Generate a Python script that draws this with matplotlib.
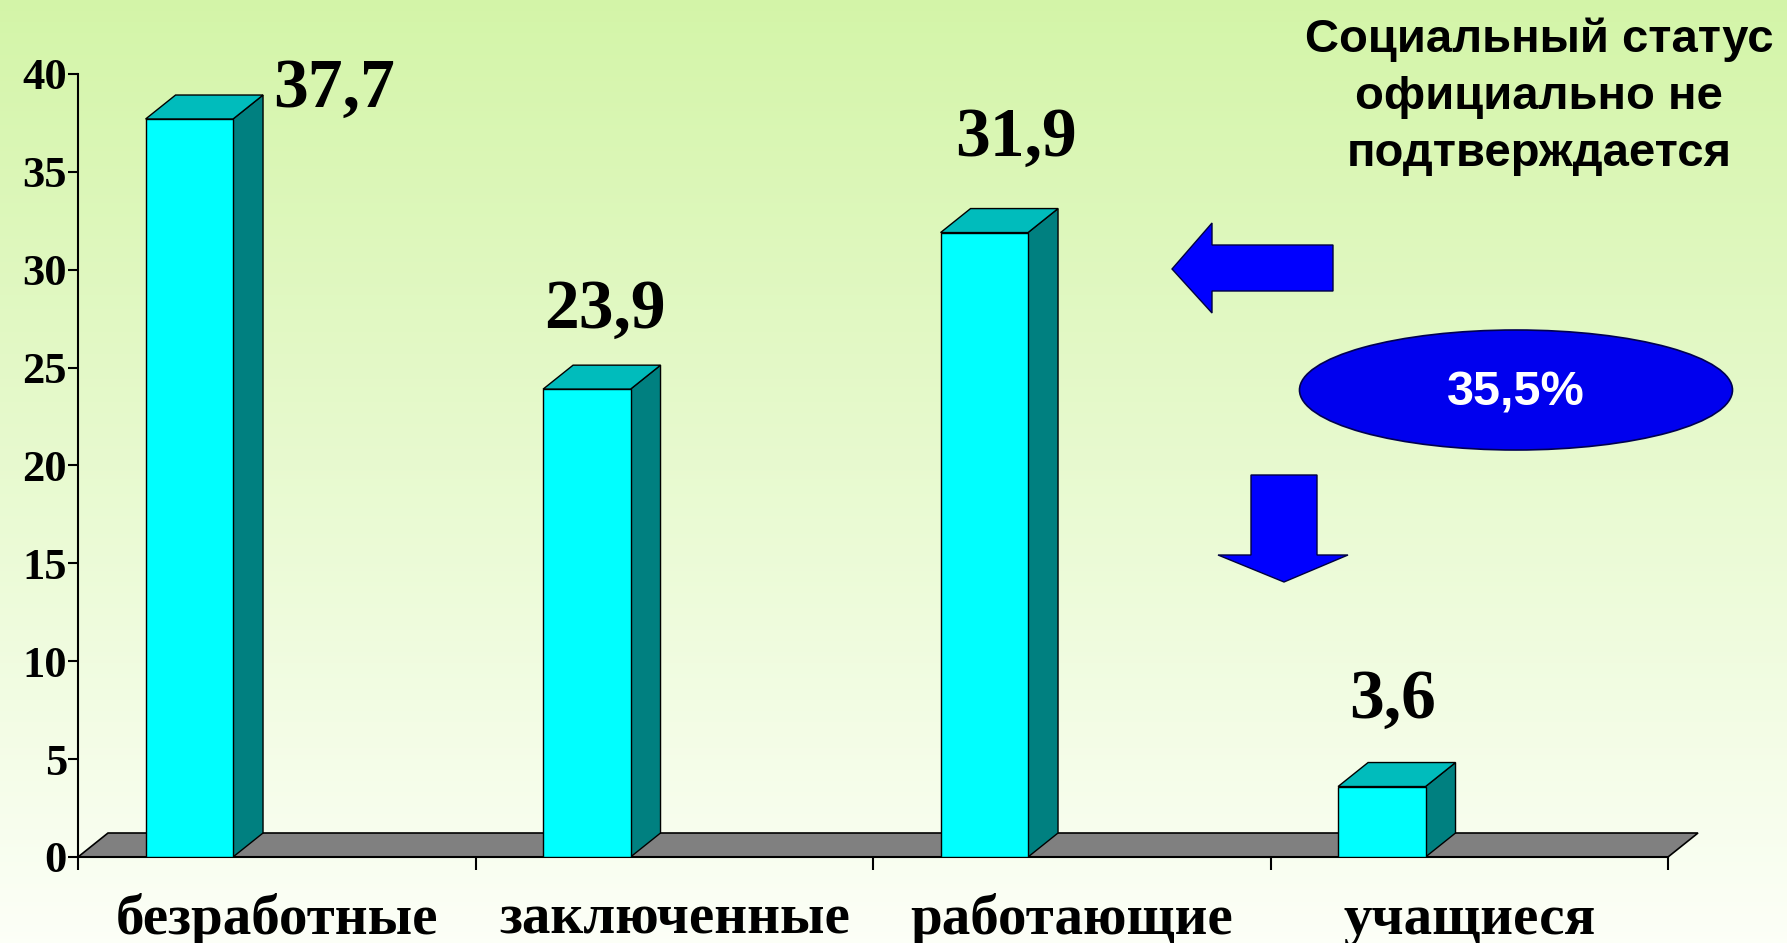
import numpy as np
import matplotlib
matplotlib.use("Agg")
from matplotlib import pyplot as plt
from matplotlib.patches import Polygon, Ellipse

# data
categories = ["безработные", "заключенные", "работающие", "учащиеся"]
values = [37.7, 23.9, 31.9, 3.6]
value_labels = ["37,7", "23,9", "31,9", "3,6"]
yticks = [0, 5, 10, 15, 20, 25, 30, 35, 40]
note_lines = ["Социальный статус", "официально не", "подтверждается"]
share_label = "35,5%"

W, H = 1787, 943
fig = plt.figure(figsize=(W / 100, H / 100), dpi=100)

def px(x, y):
    return (x / W, 1 - y / H)

# background gradient
bg = fig.add_axes([0, 0, 1, 1], zorder=-10)
top = np.array([0.83, 0.96, 0.66])
bot = np.array([0.99, 1.0, 0.97])
t = np.linspace(0, 1, 256)[:, None]
grad = (top * (1 - t) + bot * t)[:, None, :]
bg.imshow(grad, aspect="auto", extent=[0, 1, 0, 1])
bg.axis("off")

ax = fig.add_axes([78 / W, (H - 857) / H, (1668 - 78) / W, (857 - 74) / H])
ax.set_facecolor("none")
ax.set_xlim(0, 4)
ax.set_ylim(0, 40)

# 3d look: depth offset in data units (30 px right, 24 px up)
ddx = 30 / 397.5
ddy = 24 / 19.575
bar_off, bar_w = 0.17, 0.22

floor = Polygon([(0, 0), (4, 0), (4 + ddx, ddy), (ddx, ddy)], closed=True,
                facecolor="#808080", edgecolor="black", lw=1.2, clip_on=False, zorder=1)
ax.add_patch(floor)

label_dx = [0.644, 0.326, 0.36, 0.308]
label_dy = [1.5, 4.0, 4.8, 4.4]

for i, v in enumerate(values):
    x0 = i + bar_off
    x1 = x0 + bar_w
    side = Polygon([(x1, 0), (x1 + ddx, ddy), (x1 + ddx, v + ddy), (x1, v)],
                   facecolor="#008080", edgecolor="black", lw=1, clip_on=False, zorder=3)
    topf = Polygon([(x0, v), (x0 + ddx, v + ddy), (x1 + ddx, v + ddy), (x1, v)],
                   facecolor="#00bcbc", edgecolor="black", lw=1, clip_on=False, zorder=3)
    ax.add_patch(side)
    ax.add_patch(topf)
    ax.bar(x0, v, width=bar_w, align="edge", color="#00ffff",
           edgecolor="black", lw=1, zorder=4)
    ax.text(i + label_dx[i], v + label_dy[i], value_labels[i], ha="center", va="center",
            family="Liberation Serif", fontweight="bold", fontsize=50, zorder=5)

for sp in ["top", "right"]:
    ax.spines[sp].set_visible(False)
ax.spines["left"].set_linewidth(1.5)
ax.spines["bottom"].set_linewidth(1.5)
ax.spines["bottom"].set_zorder(2)

ax.set_yticks(yticks)
ax.set_yticklabels([str(v) for v in yticks], family="Liberation Serif",
                   fontweight="bold", fontsize=32)
ax.tick_params(axis="y", length=7, width=1.5, pad=1)
ax.set_xticks(range(len(categories) + 1))
ax.set_xticklabels([])
ax.tick_params(axis="x", length=9, width=1.5)

for i, c in enumerate(categories):
    ax.text(i + 0.5, (857 - 934) / 783, c, transform=ax.get_xaxis_transform(),
            ha="center", va="baseline", family="Liberation Serif",
            fontweight="bold", fontsize=41, clip_on=False)

# note on the right
for k, line in enumerate(note_lines):
    fig.text(*px(1539, 40 + 57 * k), line, ha="center", va="center",
             family="Liberation Sans", fontweight="heavy", fontsize=34)

left_arrow = [(1172, 269), (1212, 223), (1212, 245), (1333, 245), (1333, 291),
              (1212, 291), (1212, 313)]
down_arrow = [(1251, 475), (1317, 475), (1317, 555), (1348, 555), (1284, 582),
              (1218, 555), (1251, 555)]
for shape in (left_arrow, down_arrow):
    fig.patches.append(Polygon([px(x, y) for x, y in shape], closed=True,
                               transform=fig.transFigure, facecolor="#0000ff",
                               edgecolor="#000040", lw=1))

fig.patches.append(Ellipse(px(1516, 390), 433 / W, 120 / H, transform=fig.transFigure,
                           facecolor="#0000ee", edgecolor="#000050", lw=1.2))
fig.text(*px(1516, 393), share_label, ha="center", va="center", color="white",
         family="Liberation Sans", fontweight="bold", fontsize=35)

fig.savefig("out.png", dpi=100)
